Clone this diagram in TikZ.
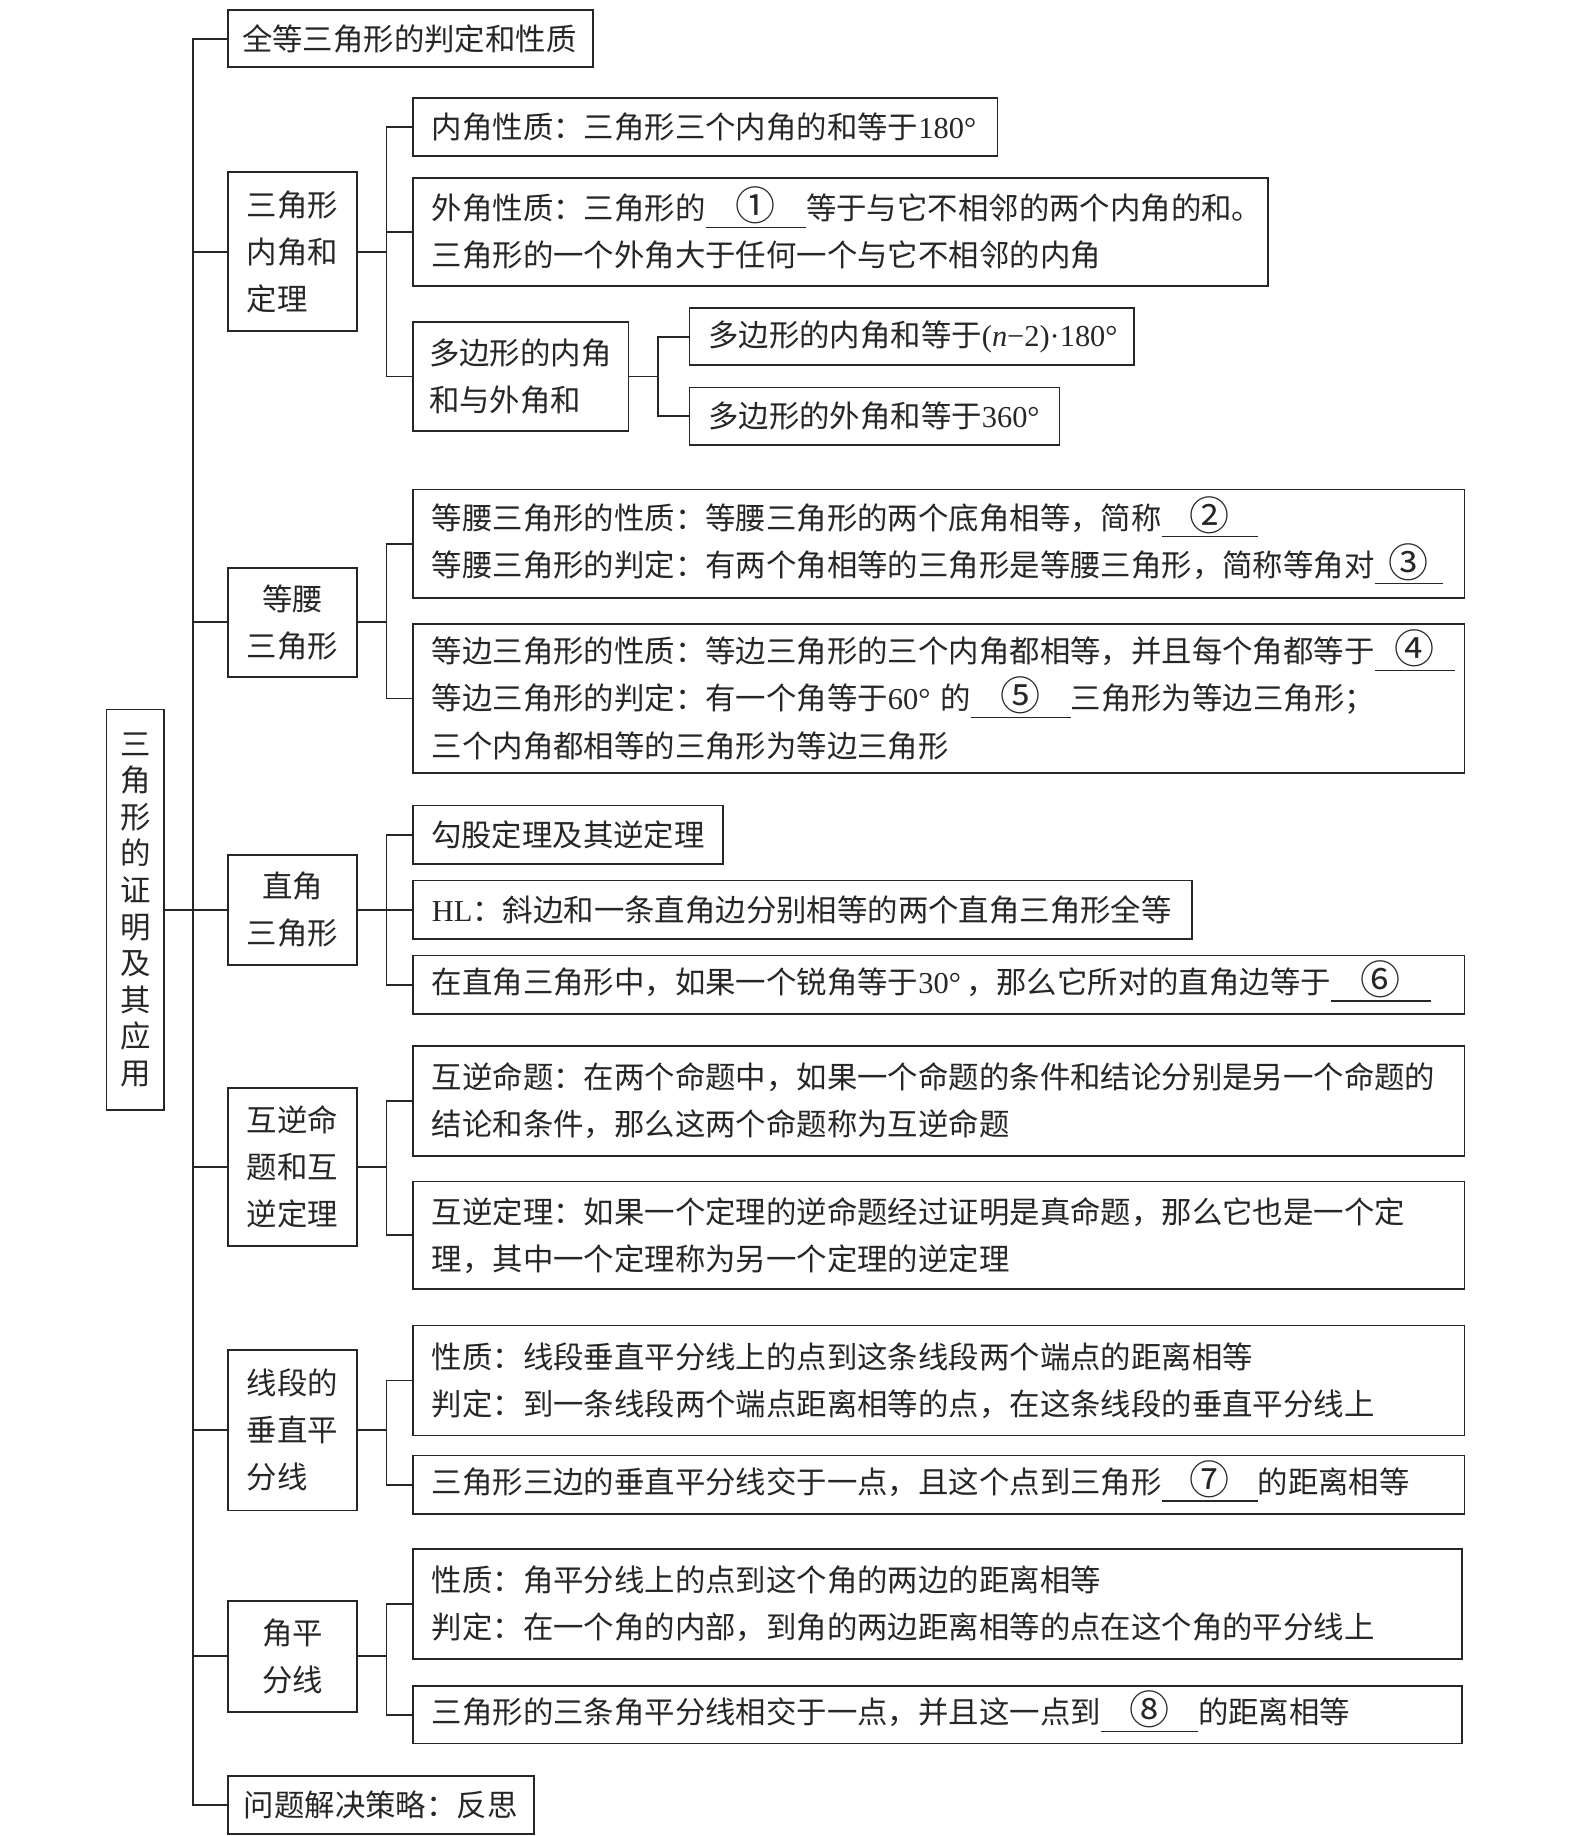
\documentclass[tikz,border=0pt]{standalone}
\usepackage{fontspec}
\setmainfont{Noto Sans CJK SC}
\newfontfamily\lat{Liberation Serif}
\newcommand\fs{\fontsize{15.2pt}{23.5pt}\selectfont}
\newcommand\blank[2]{\makebox[#2]{\smash{\fontsize{20pt}{20pt}\selectfont\raisebox{-0.5pt}{#1}}}\kern-#2\rule[-4pt]{#2}{0.6pt}}
\begin{document}
\begin{tikzpicture}[x=0.5853pt,y=-0.5853pt,
  bx/.style={draw=black!85, line width=0.9pt, anchor=west, inner xsep=9.4pt, inner ysep=0pt,
             align=left, text=black!85, font=\fs},
  lone/.style={bx, text width=45.6pt},
  wide/.style={bx, text width=506.8pt},
  ln/.style={line width=0.9pt, draw=black!85}]
\useasboundingbox (0,0) rectangle (1342,1568);

% root
\node[draw=black!85, line width=0.9pt, inner sep=0pt, minimum width=28.7pt, minimum height=200.2pt,
      align=center, text=black!85, font=\fontsize{15.2pt}{18.3pt}\selectfont] (root) at (115.5,777)
  {三\\角\\形\\的\\证\\明\\及\\其\\应\\用};

% level 1
\node[bx, inner xsep=7pt, text width=168.6pt, minimum height=28.7pt] (g1) at (194,33) {全等三角形的判定和性质};
\node[lone, minimum height=79.6pt] (g2) at (194,215) {三角形\\内角和\\定理};
\node[lone, align=center, minimum height=54.4pt] (g3) at (194,531.5) {等腰\\三角形};
\node[lone, align=center, minimum height=55pt] (g4) at (194,777) {直角\\三角形};
\node[lone, minimum height=79pt] (g5) at (194,996.5) {互逆命\\题和互\\逆定理};
\node[lone, minimum height=80.2pt] (g6) at (194,1221.5) {线段的\\垂直平\\分线};
\node[lone, align=center, minimum height=55.6pt] (g7) at (194,1414.5) {角平\\分线};
\node[bx, inner xsep=7.9pt, text width=137pt, minimum height=28.7pt] (g8) at (194,1541.5) {问题解决策略：反思};

% group 2
\node[bx, text width=273.3pt, minimum height=28.7pt] (a1) at (352,108.5) {内角性质：三角形三个内角的和等于{\lat 180°}};
\node[bx, text width=408.5pt, minimum height=53.8pt] (a2) at (352,198)
  {外角性质：三角形的\blank{①}{50.3pt}等于与它不相邻的两个内角的和。\\三角形的一个外角大于任何一个与它不相邻的内角};
\node[bx, inner xsep=8pt, text width=91.7pt, minimum height=54.4pt] (a3) at (352,321.5) {多边形的内角\\和与外角和};
\node[bx, text width=203.6pt, minimum height=28.7pt] (p1) at (588,287.5) {多边形的内角和等于{\lat(\textit{n}−2)·180°}};
\node[bx, text width=166.2pt, minimum height=28.7pt] (p2) at (588,355.5) {多边形的外角和等于{\lat 360°}};

% group 3
\node[wide, minimum height=54.4pt] (b1) at (352,464.5)
  {等腰三角形的性质：等腰三角形的两个底角相等，简称\blank{②}{48pt}\\
   等腰三角形的判定：有两个角相等的三角形是等腰三角形，简称等角对\blank{③}{34pt}};
\node[wide, minimum height=74.3pt] (b2) at (352,596.5)
  {等边三角形的性质：等边三角形的三个内角都相等，并且每个角都等于\blank{④}{40pt}\\
   等边三角形的判定：有一个角等于{\lat 60°}\ 的\blank{⑤}{49.8pt}三角形为等边三角形；\\
   三个内角都相等的三角形为等边三角形};

% group 4
\node[bx, inner xsep=9pt, text width=137.1pt, minimum height=29.3pt] (c1) at (352,713) {勾股定理及其逆定理};
\node[bx, text width=370.4pt, minimum height=29.3pt] (c2) at (352,777) {{\lat HL}：斜边和一条直角边分别相等的两个直角三角形全等};
\node[wide, minimum height=29.3pt] (c3) at (352,841)
  {在直角三角形中，如果一个锐角等于{\lat 30°}\,，那么它所对的直角边等于\blank{⑥}{50pt}};

% group 5
\node[wide, minimum height=55pt] (d1) at (352,940)
  {互逆命题：在两个命题中，如果一个命题的条件和结论分别是另一个命题的\\结论和条件，那么这两个命题称为互逆命题};
\node[wide, minimum height=53.8pt] (d2) at (352,1055)
  {互逆定理：如果一个定理的逆命题经过证明是真命题，那么它也是一个定\\理，其中一个定理称为另一个定理的逆定理};

% group 6
\node[wide, minimum height=55pt] (e1) at (352,1179)
  {性质：线段垂直平分线上的点到这条线段两个端点的距离相等\\判定：到一条线段两个端点距离相等的点，在这条线段的垂直平分线上};
\node[wide, minimum height=29.3pt] (e2) at (352,1268)
  {三角形三边的垂直平分线交于一点，且这个点到三角形\blank{⑦}{48pt}的距离相等};

% group 7
\node[bx, text width=505.6pt, minimum height=55pt] (f1) at (352,1370)
  {性质：角平分线上的点到这个角的两边的距离相等\\判定：在一个角的内部，到角的两边距离相等的点在这个角的平分线上};
\node[bx, text width=505.6pt, minimum height=28.7pt] (f2) at (352,1464.5)
  {三角形的三条角平分线相交于一点，并且这一点到\blank{⑧}{48.6pt}的距离相等};

% connectors
\coordinate (T) at (165,0);
\coordinate (B) at (330,0);
\coordinate (C) at (562,0);
\draw[ln] (root.east) -- (root.east -| T);
\draw[ln] (g1.west) -- (g1.west -| T) -- (g8.west -| T) -- (g8.west);
\foreach \n in {g2,g3,g4,g5,g6,g7} \draw[ln] (\n.west) -- (\n.west -| T);

\draw[ln] (g2.east) -- (g2.east -| B);
\draw[ln] (a1.west) -- (a1.west -| B) -- (a3.west -| B) -- (a3.west);
\draw[ln] (a2.west) -- (a2.west -| B);
\draw[ln] (a3.east) -- (a3.east -| C);
\draw[ln] (p1.west) -- (p1.west -| C) -- (p2.west -| C) -- (p2.west);

\draw[ln] (g3.east) -- (g3.east -| B);
\draw[ln] (b1.west) -- (b1.west -| B) -- (b2.west -| B) -- (b2.west);

\draw[ln] (g4.east) -- (g4.east -| B);
\draw[ln] (c1.west) -- (c1.west -| B) -- (c3.west -| B) -- (c3.west);
\draw[ln] (c2.west) -- (c2.west -| B);

\draw[ln] (g5.east) -- (g5.east -| B);
\draw[ln] (d1.west) -- (d1.west -| B) -- (d2.west -| B) -- (d2.west);

\draw[ln] (g6.east) -- (g6.east -| B);
\draw[ln] (e1.west) -- (e1.west -| B) -- (e2.west -| B) -- (e2.west);

\draw[ln] (g7.east) -- (g7.east -| B);
\draw[ln] (f1.west) -- (f1.west -| B) -- (f2.west -| B) -- (f2.west);
\end{tikzpicture}
\end{document}
